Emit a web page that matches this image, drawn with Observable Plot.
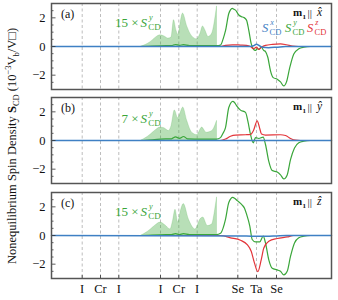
<!DOCTYPE html>
<html><head><meta charset="utf-8">
<script src="https://cdn.jsdelivr.net/npm/d3@7"></script>
<script src="https://cdn.jsdelivr.net/npm/@observablehq/plot@0.6"></script>
<style>
body{margin:0;background:#fff;}
#chart{position:relative;width:338px;height:300px;font-family:"Liberation Serif","Times New Roman","DejaVu Serif",serif;}
#chart svg{display:block;}
#chart svg text{font-family:"Liberation Serif","Times New Roman","DejaVu Serif",serif;}
#ylab{position:absolute;left:12px;top:146px;transform:translate(-50%,-50%) rotate(-90deg);white-space:nowrap;font-size:12.5px;color:#111;line-height:1;}
#ylab sub,#ylab sup{font-size:8.5px;line-height:0;}
</style></head><body><div id="chart"><div id="ylab">Nonequilibrium Spin Density <b>S</b><sub>CD</sub> (10<sup>−3</sup>V<sub>b</sub>/V□)</div></div>
<script>
// site positions (layer coordinate) and labels
const sitePos = [3.07, 4.9, 6.73, 10.9, 12.73, 14.57, 18.63, 20.5, 22.5];
const siteLabels = ["I", "Cr", "I", "I", "Cr", "I", "Se", "Ta", "Se"];
const yMajor = [-2, 0, 2];
const yMinor = [-2.5, -1.5, -1, -0.5, 0.5, 1, 1.5, 2.5];
const panelLetters = ["(a)", "(b)", "(c)"];
const magAxes = ["x̂", "ŷ", "ẑ"];
const scaleFactors = ["15", "7", "15"];

// panel (a): m1 || x
const aFill = [[9.0,0],[9.4,0.1],[9.9,0.3],[10.4,0.6],[10.9,0.78],[11.3,0.7],[11.7,0.55],[12.0,0.62],[12.25,1.84],[12.5,1.1],[12.7,0.8],[12.9,1.6],[13.15,2.3],[13.57,1.4],[14.07,0.7],[14.57,0.5],[14.9,0.9],[15.15,1.4],[15.4,1.1],[15.7,0.66],[16.07,0.9],[16.3,1.6],[16.55,2.8]];
const aGreen = [[0,0],[9,0],[10.9,0.05],[12.0,0.06],[12.4,0.14],[12.8,0.08],[13.2,0.13],[13.8,0.06],[15,0.06],[16.5,0.06],[16.9,0.1],[17.15,0.5],[17.4,1.1],[17.73,2.3],[17.9,2.55],[18.07,2.66],[18.25,2.6],[18.4,2.54],[18.73,2.2],[19.0,2.08],[19.23,2.03],[19.5,1.84],[19.73,1.13],[19.97,0.2],[20.17,-0.16],[20.4,-0.28],[20.57,-0.15],[20.73,-0.2],[20.97,-0.05],[21.23,-0.28],[21.4,-0.35],[21.63,-0.75],[21.9,-1.7],[22.17,-2.17],[22.57,-2.28],[22.9,-2.47],[23.23,-2.75],[23.5,-2.47],[23.83,-1.46],[24.23,-0.52],[24.73,-0.16],[25.23,-0.05],[25.9,0],[28,0]];
const aRed = [[0,0],[16.9,0],[17.4,0.08],[18.1,0.12],[18.9,0.1],[19.5,0.08],[19.9,0],[20.2,-0.15],[20.5,-0.05],[20.75,-0.2],[21.0,-0.05],[21.4,0.08],[22.1,0.15],[22.9,0.18],[23.5,0.12],[24.1,0.03],[24.7,0],[28,0]];
const aBlue = [[0,0],[19.9,0],[20.2,0.05],[20.5,0.15],[20.8,0.05],[21.1,-0.05],[21.7,-0.08],[22.5,-0.05],[23.4,0],[28,0]];

// panel (b): m1 || y
const bFill = [[9.0,0],[9.4,0.15],[9.9,0.4],[10.4,0.7],[10.9,0.9],[11.3,0.85],[11.73,0.66],[12.0,1.0],[12.33,2.1],[12.67,1.55],[12.9,1.9],[13.17,2.3],[13.57,1.37],[14.07,0.54],[14.57,0.38],[15.07,0.9],[15.5,0.54],[16.07,0.66],[16.3,0.9],[16.55,1.37]];
const bGreen = [[0,0],[9,0],[10.9,0.1],[12.0,0.12],[12.4,0.25],[12.8,0.15],[13.2,0.28],[13.6,0.12],[15,0.1],[16.5,0.1],[16.9,0.2],[17.15,0.5],[17.4,0.9],[17.73,2.3],[18.13,2.73],[18.3,2.65],[18.5,2.43],[18.9,2.12],[19.4,1.96],[19.63,1.37],[19.9,0.42],[20.17,-0.16],[20.4,0.2],[20.73,0.14],[21.17,0.24],[21.4,-0.28],[21.73,-1.46],[22.07,-2.1],[22.57,-2.2],[22.9,-2.4],[23.23,-2.68],[23.57,-2.4],[23.9,-1.34],[24.3,-0.52],[24.73,-0.16],[25.23,-0.05],[25.9,0],[28,0]];
const bRed = [[0,0],[16.9,0],[17.4,0.1],[17.9,0.3],[18.4,0.38],[19.4,0.4],[19.9,0.42],[20.2,0.7],[20.57,1.37],[20.8,0.9],[21.0,0.45],[21.4,0.38],[22.9,0.4],[23.4,0.35],[23.9,0.14],[24.4,0.02],[24.9,0],[28,0]];
const bBlue = [[0,0],[28,0]];

// panel (c): m1 || z
const cFill = [[9.0,0],[9.4,0.15],[9.9,0.4],[10.4,0.7],[10.9,0.9],[11.4,0.7],[11.9,0.42],[12.15,1.0],[12.4,1.79],[12.67,0.9],[12.9,1.6],[13.23,2.19],[13.73,1.13],[14.4,0.42],[14.9,1.13],[15.17,1.25],[15.63,0.66],[16.07,0.78],[16.3,1.5],[16.55,2.66]];
const cGreen = [[0,0],[9,0],[10.9,0.05],[12.0,0.06],[12.4,0.13],[12.8,0.07],[13.2,0.13],[13.8,0.06],[15,0.06],[16.5,0.06],[16.9,0.15],[17.15,0.5],[17.4,1.13],[17.73,2.3],[18.13,2.66],[18.3,2.6],[18.57,2.43],[19.07,2.12],[19.3,1.9],[19.5,1.5],[19.83,0.66],[20.07,-0.28],[20.4,-0.45],[20.83,-0.45],[21.17,-0.05],[21.4,-0.52],[21.73,-1.7],[22.07,-2.28],[22.57,-2.4],[22.9,-2.5],[23.23,-2.75],[23.57,-2.5],[23.9,-1.46],[24.3,-0.52],[24.73,-0.16],[25.23,-0.05],[25.9,0],[28,0]];
const cRed = [[0,0],[16.9,0],[17.9,-0.16],[18.9,-0.33],[19.57,-0.64],[19.97,-1.1],[20.3,-1.93],[20.63,-2.52],[20.97,-1.7],[21.23,-0.87],[21.73,-0.4],[22.57,-0.21],[23.57,-0.1],[24.23,0],[28,0]];
const cBlue = [[0,0],[19.5,-0.03],[20.5,-0.06],[21.5,-0.06],[22.5,-0.03],[23.5,0],[28,0]];

const panels = [
  {fill: aFill, green: aGreen, red: aRed, blue: aBlue},
  {fill: bFill, green: bGreen, red: bRed, blue: bBlue},
  {fill: cFill, green: cGreen, red: cRed, blue: cBlue}
];

const F = "'Liberation Serif', 'Times New Roman', 'DejaVu Serif', serif";
const GREEN = "#3aa63a", RED = "#e3353a", BLUE = "#3f80c4";
const heights = [94, 95, 111];
const mTop = [3, 3, 3];
const mBottom = [5, 6, 22];
const fmtY = d => d < 0 ? "\u2212" + (-d) : String(d);

function txt(str, opts) {
  return Plot.text([str], {text: d => d, frameAnchor: "top-left", textAnchor: "start", lineAnchor: "bottom", fontFamily: F, ...opts});
}
function sLabel(dx, dy, sup, color, fs) {
  return [
    txt("S", {dx, dy, fill: color, fontSize: fs, fontStyle: "italic"}),
    txt(sup, {dx: dx + fs * 0.66, dy: dy - fs * 0.5, fill: color, fontSize: fs * 0.64, fontStyle: "italic"}),
    txt("CD", {dx: dx + fs * 0.6, dy: dy + fs * 0.3, fill: color, fontSize: fs * 0.68})
  ];
}

const chart = document.getElementById("chart");
panels.forEach((p, i) => {
  const last = i === 2;
  const X = d => d[0], Y = d => d[1];
  const marks = [
    Plot.ruleX(sitePos, {x: d => d, stroke: "#bdbdbd", strokeWidth: 1, strokeDasharray: "3,2.5"}),
    Plot.areaY(p.fill, {x: X, y: Y, fill: "#4daf4a", fillOpacity: 0.4, stroke: "#4daf4a", strokeOpacity: 0.25, strokeWidth: 0.8, curve: "monotone-x"}),
    Plot.line(p.green, {x: X, y: Y, stroke: GREEN, strokeWidth: 1.2, curve: "monotone-x"}),
    Plot.line(p.red, {x: X, y: Y, stroke: RED, strokeWidth: 1.2, curve: "monotone-x"}),
    Plot.line(p.blue, {x: X, y: Y, stroke: BLUE, strokeWidth: 1.5, curve: "monotone-x"}),
    Plot.axisY({ticks: yMajor, tickFormat: fmtY, tickSize: 0, tickPadding: 6, fontSize: 12.5, fontFamily: F}),
    Plot.ruleY(yMinor, {y: d => d, x1: 0, x2: 0.25, stroke: "#333", strokeWidth: 0.8}),
    Plot.ruleY(yMajor, {y: d => d, x1: 0, x2: 0.45, stroke: "#333", strokeWidth: 0.8}),
    Plot.frame({stroke: "#555", strokeWidth: 1.5}),
    txt(panelLetters[i], {dx: 9.5, dy: 14, fontSize: 12, fill: "#111"}),
    txt("m", {dx: 241.5, dy: 12.5, fontSize: 11, fontWeight: "bold", fill: "#111"}),
    txt("1", {dx: 251, dy: 15, fontSize: 7, fontWeight: "bold", fill: "#111"}),
    txt("|", {dx: 256, dy: 13, fontSize: 11, fill: "#111"}),
    txt("|", {dx: 258.2, dy: 13, fontSize: 11, fill: "#111"}),
    txt(magAxes[i], {dx: 265.5, dy: 12.5, fontSize: 11.5, fontStyle: "italic", fill: "#111"}),
    txt(scaleFactors[i] + " \u00d7", {dx: 87, dy: i === 1 ? 25 : 23, fontSize: 13, fill: GREEN, textAnchor: "end"}),
    ...sLabel(89, i === 1 ? 25 : 23, "y", GREEN, 13)
  ];
  if (i === 0) {
    marks.push(...sLabel(210.5, 28, "x", BLUE, 12.5));
    marks.push(...sLabel(233.5, 28, "y", GREEN, 12.5));
    marks.push(...sLabel(255.5, 28, "z", RED, 12.5));
  }
  if (last) {
    marks.push(Plot.axisX({ticks: sitePos, tickFormat: d => siteLabels[sitePos.indexOf(d)], tickSize: 0, tickPadding: 6, fontSize: 12.5, fontFamily: F}));
    marks.push(Plot.ruleX(sitePos, {x: d => d, y1: -3, y2: -2.78, stroke: "#333", strokeWidth: 0.8}));
  }
  const svg = Plot.plot({
    width: 338, height: heights[i],
    marginLeft: 51, marginRight: 7, marginTop: mTop[i], marginBottom: mBottom[i],
    style: {fontFamily: F, fontSize: "12px", background: "transparent", overflow: "visible", color: "#111"},
    x: {domain: [0, 28], axis: null},
    y: {domain: [-3, 3], axis: null},
    marks
  });
  chart.appendChild(svg);
});
</script>
</body></html>
